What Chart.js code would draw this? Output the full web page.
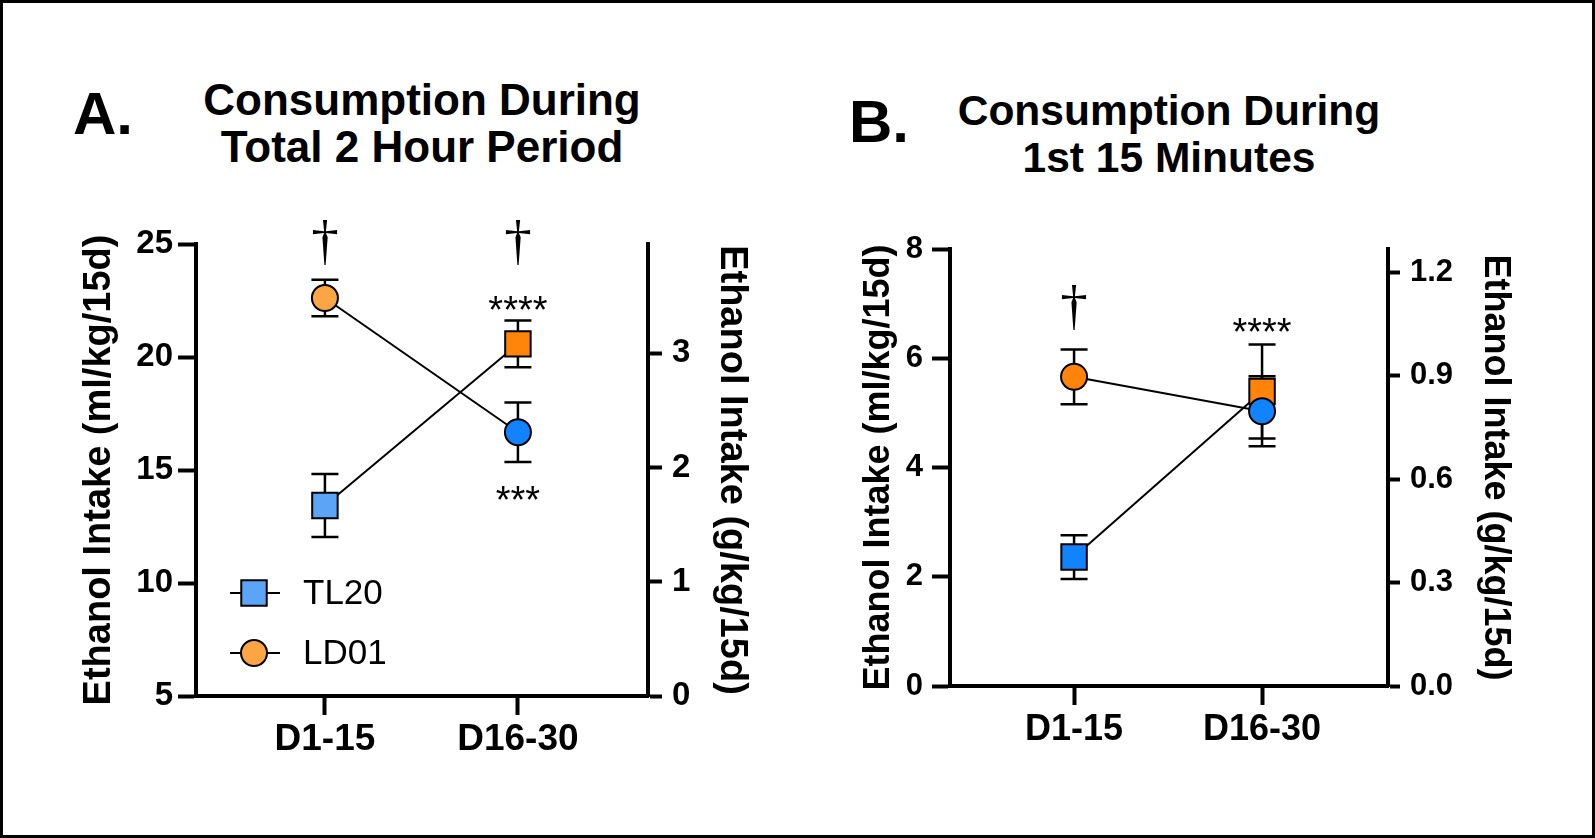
<!DOCTYPE html>
<html>
<head>
<meta charset="utf-8">
<script src="https://cdn.jsdelivr.net/npm/chart.js@4.4.0/dist/chart.umd.min.js"></script>
<style>
  html, body { margin: 0; padding: 0; background: #fff; }
  body { width: 1595px; height: 838px; position: relative; overflow: hidden; font-family: "Liberation Sans", Arial, sans-serif; color: #000; }
  #frame { position: absolute; left: 0; top: 0; width: 1595px; height: 838px; box-sizing: border-box; border: 3px solid #000; }
  canvas { position: absolute; top: 0; }
  #chartA { left: 0; }
  #chartB { left: 800px; }
  .panel-letter { position: absolute; font-weight: bold; font-size: 60px; line-height: 60px; }
  .panel-title { position: absolute; width: 600px; text-align: center; font-weight: bold; font-size: 44px; line-height: 47px; }
</style>
</head>
<body>
<div id="frame"></div>
<div class="panel-letter" style="left:73px; top:84px">A.</div>
<div class="panel-title" style="left:122px; top:76px">Consumption During<br>Total 2 Hour Period</div>
<div class="panel-letter" style="left:849px; top:92px">B.</div>
<div class="panel-title" style="left:869px; top:87px; font-size:42.5px">Consumption During<br>1st 15 Minutes</div>
<canvas id="chartA" width="800" height="838"></canvas>
<canvas id="chartB" width="795" height="838"></canvas>

<script>
// categories / series
const categories = ['D1-15', 'D16-30'];
const seriesNames = ['TL20', 'LD01'];

// A: total 2 hour period (ml/kg/15d), mean and SEM
const tl20Total = [13.43, 20.58];
const tl20TotalErr = [1.39, 1.03];
const ld01Total = [22.61, 16.67];
const ld01TotalErr = [0.81, 1.32];

// B: first 15 minutes (ml/kg/15d)
const tl20First = [2.36, 5.39];
const tl20FirstErr = [0.40, 0.86];
const ld01First = [5.66, 5.03];
const ld01FirstErr = [0.50, 0.64];

// tick labels
const totalMlTicks = [5, 10, 15, 20, 25];
const totalGTicks = [0, 1, 2, 3];
const firstMlTicks = [0, 2, 4, 6, 8];
const firstGTicks = [0, 0.3, 0.6, 0.9, 1.2];
const totalGMax = 3.955;
const firstGMax = 1.267;

// significance marks (y in ml/kg units)
const totalMarks = [
  { cat: 0, y: 24.95, text: '†' },
  { cat: 1, y: 24.95, text: '†' },
  { cat: 1, y: 22.48, text: '****' },
  { cat: 1, y: 14.07, text: '***' }
];
const firstMarks = [
  { cat: 0, y: 6.89, text: '†' },
  { cat: 1, y: 6.65, text: '****' }
];

// colours per point
const lightBlue = '#5aa5f5';
const blue = '#1283ff';
const lightOrange = '#fba544';
const orange = '#ff8409';

const FONT = '"Liberation Sans", Arial, sans-serif';
Chart.defaults.font.family = FONT;
Chart.defaults.color = '#000';

// error bars under the markers
const errorBars = {
  id: 'errorBars',
  beforeDatasetsDraw(chart, args, opts) {
    const ctx = chart.ctx;
    const yScale = chart.scales.y;
    ctx.save();
    ctx.strokeStyle = '#000';
    ctx.lineWidth = opts.width || 2.5;
    const cap = opts.cap || 13.5;
    chart.data.datasets.forEach((ds, di) => {
      const meta = chart.getDatasetMeta(di);
      meta.data.forEach((pt, i) => {
        const v = ds.data[i].y;
        const e = ds.errors[i];
        const top = yScale.getPixelForValue(v + e);
        const bot = yScale.getPixelForValue(v - e);
        ctx.beginPath();
        ctx.moveTo(pt.x, top); ctx.lineTo(pt.x, bot);
        ctx.moveTo(pt.x - cap, top); ctx.lineTo(pt.x + cap, top);
        ctx.moveTo(pt.x - cap, bot); ctx.lineTo(pt.x + cap, bot);
        ctx.stroke();
      });
    });
    ctx.restore();
  }
};

// daggers and stars
const sigMarks = {
  id: 'sigMarks',
  afterDatasetsDraw(chart, args, opts) {
    if (!opts.marks) return;
    const ctx = chart.ctx;
    const xs = chart.scales.x, ys = chart.scales.y;
    ctx.save();
    ctx.fillStyle = '#000';
    ctx.textAlign = 'center';
    ctx.textBaseline = 'alphabetic';
    opts.marks.forEach(m => {
      const dagger = m.text === '†';
      const size = dagger ? 55 : 38;
      ctx.font = dagger ? size + 'px "Liberation Serif", serif' : size + 'px ' + FONT;
      const shift = dagger ? 0.26 : 0.58;
      ctx.fillText(m.text, xs.getPixelForValue(m.cat), ys.getPixelForValue(m.y) + shift * size);
    });
    ctx.restore();
  }
};

// legend drawn inside the plot area
const insideLegend = {
  id: 'insideLegend',
  afterDraw(chart, args, opts) {
    if (!opts.items) return;
    const ctx = chart.ctx;
    const area = chart.chartArea;
    ctx.save();
    opts.items.forEach((it, k) => {
      const cx = area.left + 58;
      const cy = area.bottom - 103 + k * 60;
      ctx.strokeStyle = '#000';
      ctx.lineWidth = 2;
      ctx.beginPath();
      ctx.moveTo(cx - 24, cy); ctx.lineTo(cx + 26, cy);
      ctx.stroke();
      ctx.fillStyle = it.color;
      Chart.helpers.drawPoint(ctx, { pointStyle: it.style, radius: it.radius, borderWidth: 2, rotation: 0 }, cx, cy);
      ctx.fillStyle = '#000';
      ctx.font = '35px ' + FONT;
      ctx.textAlign = 'left';
      ctx.textBaseline = 'middle';
      ctx.fillText(it.label, cx + 49, cy + 1);
    });
    ctx.restore();
  }
};

Chart.register(errorBars, sigMarks, insideLegend);

function pts(values) {
  return values.map((v, i) => ({ x: i, y: v }));
}

function lineSet(label, values, errs, colors, style, radius, order) {
  return {
    label: label,
    data: pts(values),
    errors: errs,
    borderColor: '#000',
    borderWidth: 2,
    fill: false,
    tension: 0,
    pointStyle: style,
    pointRadius: radius,
    pointHoverRadius: radius,
    pointBackgroundColor: colors,
    pointBorderColor: '#000',
    pointBorderWidth: 2,
    order: order
  };
}

function makeChart(id, cfg) {
  return new Chart(document.getElementById(id), {
    type: 'line',
    data: {
      datasets: [
        lineSet(seriesNames[1], cfg.ld01, cfg.ld01Err, cfg.ld01Colors, 'circle', 13, 0),
        lineSet(seriesNames[0], cfg.tl20, cfg.tl20Err, cfg.tl20Colors, 'rect', 18, 1)
      ]
    },
    options: {
      responsive: false,
      animation: false,
      devicePixelRatio: 1,
      layout: { padding: cfg.padding },
      plugins: {
        legend: { display: false },
        tooltip: { enabled: false },
        errorBars: { width: 2.5, cap: 13.5 },
        sigMarks: { marks: cfg.marks },
        insideLegend: cfg.legend ? { items: cfg.legend } : {}
      },
      scales: {
        x: {
          type: 'linear',
          min: cfg.xMin,
          max: cfg.xMax,
          afterBuildTicks: s => { s.ticks = categories.map((c, i) => ({ value: i })); },
          afterFit: s => { s.height = 100; },
          ticks: {
            callback: v => categories[v],
            font: { size: cfg.xFont, weight: 'bold' },
            padding: 3,
            maxRotation: 0
          },
          grid: { drawOnChartArea: false, tickLength: 19, tickWidth: 4, tickColor: '#000' },
          border: { display: true, color: '#000', width: 4 }
        },
        y: {
          position: 'left',
          min: cfg.leftTicks[0],
          max: cfg.leftTicks[cfg.leftTicks.length - 1],
          afterBuildTicks: s => { s.ticks = cfg.leftTicks.map(v => ({ value: v })); },
          afterFit: s => { s.width = cfg.leftWidth; },
          ticks: { font: { size: cfg.tickFont, weight: 'bold' }, padding: cfg.leftPad },
          grid: { drawOnChartArea: false, tickLength: 18, tickWidth: 4, tickColor: '#000' },
          border: { display: true, color: '#000', width: 4 },
          title: {
            display: true,
            text: 'Ethanol Intake (ml/kg/15d)',
            font: { size: cfg.titleFont, weight: 'bold' },
            padding: { top: cfg.leftTitlePad, bottom: 0 }
          }
        },
        y2: {
          position: 'right',
          min: 0,
          max: cfg.rightMax,
          afterBuildTicks: s => { s.ticks = cfg.rightTicks.map(v => ({ value: v })); },
          afterFit: s => { s.width = cfg.rightWidth; },
          ticks: {
            font: { size: cfg.tickFont, weight: 'bold' },
            padding: 10,
            callback: v => cfg.rightDecimals ? v.toFixed(cfg.rightDecimals) : String(v)
          },
          grid: { drawOnChartArea: false, tickLength: cfg.rightTick, tickWidth: 4, tickColor: '#000' },
          border: { display: true, color: '#000', width: 4 },
          title: {
            display: true,
            text: 'Ethanol Intake (g/kg/15d)',
            font: { size: cfg.titleFont, weight: 'bold' },
            padding: { top: cfg.rightTitlePad, bottom: 0 }
          }
        }
      }
    }
  });
}

// A: plot area x 196..648, y 244..696
makeChart('chartA', {
  tl20: tl20Total, tl20Err: tl20TotalErr, tl20Colors: [lightBlue, orange],
  ld01: ld01Total, ld01Err: ld01TotalErr, ld01Colors: [lightOrange, blue],
  marks: totalMarks,
  legend: [
    { label: seriesNames[0], style: 'rect', radius: 18, color: lightBlue },
    { label: seriesNames[1], style: 'circle', radius: 13, color: lightOrange }
  ],
  padding: { left: 56, right: 32, top: 244, bottom: 42 },
  xMin: -0.668, xMax: 1.674,
  leftTicks: totalMlTicks, rightTicks: totalGTicks, rightMax: totalGMax, rightDecimals: 0,
  leftWidth: 140, rightWidth: 120, leftPad: 5, rightTick: 14,
  tickFont: 33, xFont: 37, titleFont: 38,
  leftTitlePad: 21, rightTitlePad: 14
});

// B: plot area x 950..1388, y 249..686 (canvas offset 800)
makeChart('chartB', {
  tl20: tl20First, tl20Err: tl20FirstErr, tl20Colors: [blue, orange],
  ld01: ld01First, ld01Err: ld01FirstErr, ld01Colors: [orange, blue],
  marks: firstMarks,
  legend: null,
  padding: { left: 30, right: 77, top: 249, bottom: 52 },
  xMin: -0.66, xMax: 1.67,
  leftTicks: firstMlTicks, rightTicks: firstGTicks, rightMax: firstGMax, rightDecimals: 1,
  leftWidth: 120, rightWidth: 130, leftPad: 9, rightTick: 12,
  tickFont: 31, xFont: 36, titleFont: 36,
  leftTitlePad: 27, rightTitlePad: 1
});
</script>
</body>
</html>
